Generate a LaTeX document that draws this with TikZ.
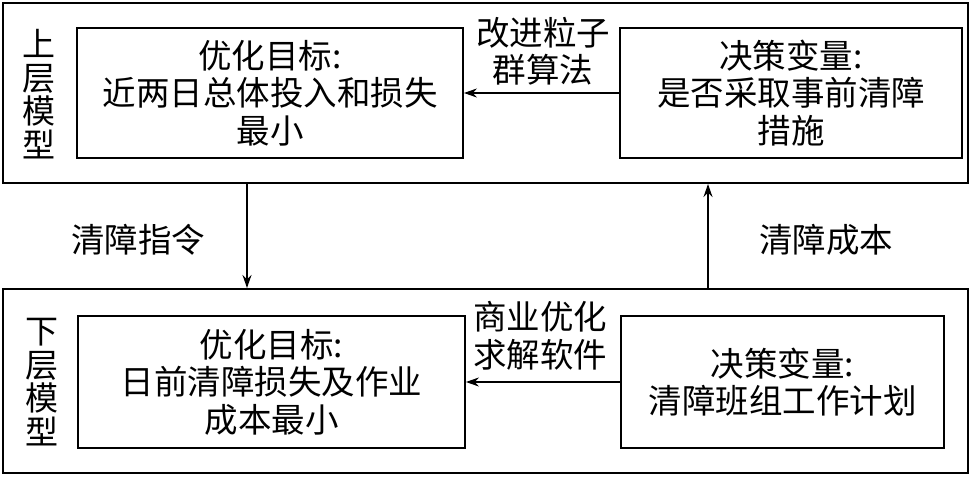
\documentclass[tikz,border=0pt]{standalone}
\usepackage{fontspec}
\setmainfont{Noto Sans CJK SC}
\usetikzlibrary{arrows.meta}
\tikzset{
  outerbox/.style={draw, line width=2pt, inner sep=0pt},
  innerbox/.style={draw, line width=1.8pt, inner sep=0pt, align=center,
    font=\fontsize{33.5}{37.5}\selectfont},
  lbl/.style={align=center, inner sep=0pt, font=\fontsize{33.5}{37.5}\selectfont},
  vlbl/.style={align=center, inner sep=0pt, text width=34pt, font=\fontsize{33}{33.5}\selectfont},
  conn/.style={line width=1.5pt, -{Stealth[length=13pt,width=9pt]}}
}
\begin{document}
\begin{tikzpicture}[x=1pt,y=-1pt]
\useasboundingbox (0,0) rectangle (973,478);
% outer boxes
\node[outerbox, minimum width=965pt, minimum height=180pt] (uO) at (485.5,93) {};
\node[outerbox, minimum width=965pt, minimum height=184pt] (lO) at (485.5,381) {};
% inner boxes upper
\node[innerbox, minimum width=386pt, minimum height=130pt] (uL) at (270,93) {优化目标:\\近两日总体投入和损失\\最小};
\node[innerbox, minimum width=342pt, minimum height=130pt] (uR) at (791,93) {决策变量:\\是否采取事前清障\\措施};
% inner boxes lower
\node[innerbox, minimum width=387pt, minimum height=132pt] (lL) at (271.5,382) {优化目标:\\日前清障损失及作业\\成本最小};
\node[innerbox, minimum width=323pt, minimum height=132pt] (lR) at (782.5,382) {决策变量:\\清障班组工作计划};
% vertical labels
\node[vlbl] (uV) at (39,94) {上\\层\\模\\型};
\node[vlbl] (lV) at (42,382) {下\\层\\模\\型};
% horizontal connectors
\draw[conn] (uR.west) -- (uL.east);
\draw[conn] (lR.west) -- (lL.east);
\node[lbl] (uA) at (543,51) {改进粒子\\群算法};
\node[lbl] (lA) at (540,336) {商业优化\\求解软件};
% vertical connectors
\coordinate (dx) at (247,0);
\coordinate (ux) at (708,0);
\draw[conn] (uO.south -| dx) -- (lO.north -| dx);
\draw[conn] (lO.north -| ux) -- (uO.south -| ux);
\node[lbl] (dL) at (138,240) {清障指令};
\node[lbl] (uLb) at (826,240) {清障成本};
\end{tikzpicture}
\end{document}
